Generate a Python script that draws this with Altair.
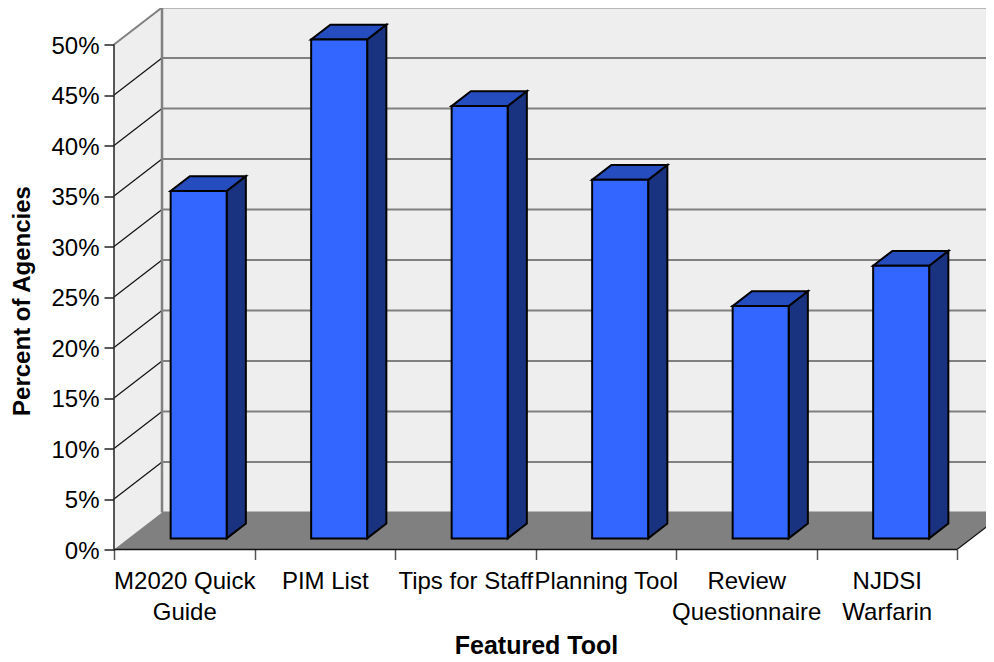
import altair as alt
import pandas as pd

categories = [["M2020 Quick", "Guide"], ["PIM List"], ["Tips for Staff"], ["Planning Tool"],
              ["Review", "Questionnaire"], ["NJDSI", "Warfarin"]]
values = [34.4, 49.4, 42.8, 35.5, 23.0, 27.0]
y_ticks = [0, 5, 10, 15, 20, 25, 30, 35, 40, 45, 50]
x_ticks = [0, 1, 2, 3, 4, 5, 6]

N = 6
DX, DY = 48 / 140.5, 37 / 10.1      # depth of the box in axis units
W = 56 / 140.5                      # bar width
Z1, Z2 = 0.30, 0.70                 # bar front/back in the depth of the box
XMAX, YMAX = 872 / 140.5, 540 / 10.1
END = N + DX

FONT = "Liberation Sans"
x_scale = alt.Scale(domain=[0, XMAX], nice=False, zero=False)
y_scale = alt.Scale(domain=[0, YMAX], nice=False, zero=False)
label_expr = "datum.value % 1 == 0 ? '' : " + str(categories) + "[floor(datum.value)]"
x = alt.X("x:Q", scale=x_scale,
    axis=alt.Axis(values=sorted(x_ticks + [c + 0.5 for c in range(N)]), labelExpr=label_expr,
                  tickOpacity={"condition": {"test": "datum.value % 1 == 0", "value": 1}, "value": 0},
                  domain=False, grid=False, tickColor="#555555", tickSize=10, tickWidth=1.5,
                  labelOverlap=False, labelBound=False, labelFlush=False, labelFont=FONT,
                  labelAngle=0, labelFontSize=24, labelColor="black", labelPadding=10, labelLineHeight=30.5,
                  labelBaseline="top", title="Featured Tool", titleFont=FONT, titleFontSize=25, titleFontWeight="bold",
                  titleColor="black", titleX=422, titleY=104, titleAlign="center", titleBaseline="alphabetic"))
y = alt.Y("y:Q", scale=y_scale,
    axis=alt.Axis(values=y_ticks, labelExpr="datum.value + '%'", domain=False, grid=False, tickColor="#222222",
                  tickSize=10, tickWidth=1.5, labelFont=FONT, labelFontSize=24, labelColor="black", labelPadding=5,
                  labelOffset=1.5,
                  title="Percent of Agencies", titleFont=FONT, titleFontSize=24, titleFontWeight="bold", titleColor="black",
                  titleX=-85, titleY=291, titleAngle=270, titleAlign="center", titleBaseline="alphabetic"))
y2 = alt.Y2("y2:Q")
x2 = alt.X2("x2:Q")

GRAY = "#808080"
WALL = "#EEEEEE"

wall = alt.Chart(pd.DataFrame([{"x": DX, "x2": END, "y": DY, "y2": 50 + DY}])).mark_rect(color=WALL).encode(x=x, x2=x2, y=y, y2=y2)
side_wall = alt.Chart(pd.DataFrame([{"x": 0, "y": 0, "y2": 50}, {"x": DX, "y": DY, "y2": 50 + DY}])).mark_area(
    color=WALL, orient="vertical").encode(x=x, y=y, y2=y2)
floor = alt.Chart(pd.DataFrame([
    {"x": 0, "y": 0, "y2": 0}, {"x": DX, "y": 0, "y2": DY},
    {"x": N, "y": 0, "y2": DY}, {"x": END, "y": DY, "y2": DY}])).mark_area(
    color=GRAY, orient="vertical").encode(x=x, y=y, y2=y2)

back_grid = alt.Chart(pd.DataFrame([{"x": DX, "x2": END, "y": v + DY} for v in y_ticks])).mark_rule(
    color=GRAY, strokeWidth=2).encode(x=x, x2=x2, y=y)
side_rows = []
for v in y_ticks:
    side_rows += [{"x": 0, "y": v, "k": v}, {"x": DX, "y": v + DY, "k": v}]
side_df = pd.DataFrame(side_rows)
side_grid = alt.Chart(side_df[(side_df.k > 0) & (side_df.k < 50)]).mark_line(color="#111111", strokeWidth=1.2).encode(
    x=x, y=y, detail="k:N")
side_top = alt.Chart(side_df[side_df.k == 50]).mark_line(color=GRAY, strokeWidth=2).encode(x=x, y=y)
back_edge = alt.Chart(pd.DataFrame([{"x": DX, "y": DY, "y2": 50 + DY}])).mark_rule(
    color=GRAY, strokeWidth=2.5).encode(x=x, y=y, y2=y2)

front_y = alt.Chart(pd.DataFrame([{"x": 0, "y": 0, "y2": 50}])).mark_rule(color="#222222", strokeWidth=1.5).encode(x=x, y=y, y2=y2)
front_x = alt.Chart(pd.DataFrame([{"x": 0, "x2": N, "y": 0}])).mark_rule(color="#111111", strokeWidth=1.5).encode(x=x, x2=x2, y=y)
right_edge = alt.Chart(pd.DataFrame([{"x": N, "y": 0}, {"x": END, "y": DY}])).mark_line(color="#111111", strokeWidth=1.2).encode(x=x, y=y)

fronts, sides, tops = [], [], []
dxb, dyb = (Z2 - Z1) * DX, (Z2 - Z1) * DY
for i, v in enumerate(values):
    l = i + 0.5 + Z1 * DX - W / 2
    r = l + W
    b = Z1 * DY
    t = b + v
    fronts.append({"x": l, "x2": r, "y": b, "y2": t})
    sides += [{"x": r, "y": b, "y2": t, "k": i}, {"x": r + dxb, "y": b + dyb, "y2": t + dyb, "k": i}]
    tops += [{"x": l, "y": t, "y2": t, "k": i}, {"x": l + dxb, "y": t, "y2": t + dyb, "k": i},
             {"x": r, "y": t, "y2": t + dyb, "k": i}, {"x": r + dxb, "y": t + dyb, "y2": t + dyb, "k": i}]

side_m = alt.Chart(pd.DataFrame(sides)).mark_area(color="#1A3380", stroke="black", strokeWidth=2, orient="vertical").encode(
    x=x, y=y, y2=y2, detail="k:N")
top_m = alt.Chart(pd.DataFrame(tops)).mark_area(color="#264DBF", stroke="black", strokeWidth=2, orient="vertical").encode(
    x=x, y=y, y2=y2, detail="k:N")
front_m = alt.Chart(pd.DataFrame(fronts)).mark_rect(color="#3366FF", stroke="black", strokeWidth=2).encode(x=x, x2=x2, y=y, y2=y2)

chart = alt.layer(
    wall, side_wall, floor, back_grid, side_grid, side_top, back_edge,
    front_y, front_x, right_edge, side_m, top_m, front_m
).properties(
    width=872, height=540,
    padding={"left": 106, "top": 1.5, "right": 0, "bottom": 110.5},
    autosize=alt.AutoSizeParams(type="none"),
    background="white",
).configure_view(stroke=None)

chart.save("out.html", embed_options={"renderer": "svg", "actions": False})
